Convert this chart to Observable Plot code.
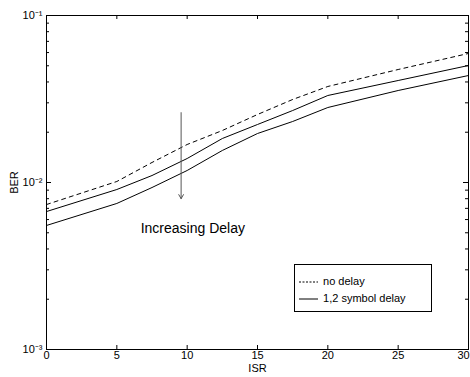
<!DOCTYPE html>
<html>
<head>
<meta charset="utf-8">
<script src="https://cdn.jsdelivr.net/npm/d3@7"></script>
<script src="https://cdn.jsdelivr.net/npm/@observablehq/plot@0.6"></script>
<style>
  html, body { margin: 0; padding: 0; background: #fff; }
  #wrap { position: relative; width: 470px; height: 377px; font-family: "Liberation Sans", Arial, sans-serif; }
  #legend { position: absolute; left: 294px; top: 264px; width: 136px; height: 46px; border: 1px solid #000; background: #fff; font-size: 11px; color: #000; }
  #legend .row { position: absolute; left: 0; height: 14px; line-height: 14px; white-space: nowrap; }
  #legend svg { vertical-align: middle; }
</style>
</head>
<body>
<div id="wrap"><div id="legend"></div></div>
<script>
// ---- data ----
const isr = [0, 5, 7.5, 10, 12.5, 15, 17.5, 20, 25, 30];
const berNoDelay = [0.00738, 0.01014, 0.01318, 0.01689, 0.02048, 0.02554, 0.03141, 0.03758, 0.04749, 0.05924];
const berDelay1  = [0.00670, 0.00908, 0.01101, 0.01392, 0.01834, 0.02225, 0.02698, 0.03319, 0.04081, 0.05018];
const berDelay2  = [0.00553, 0.00749, 0.00933, 0.01180, 0.01555, 0.01965, 0.02319, 0.02812, 0.03555, 0.04372];

const xTicks = [0, 5, 10, 15, 20, 25, 30];
const xTicksInner = [0, 5, 10, 15, 20, 25];
const xTickLast = [30];
const yMajor = [1e-3, 1e-2, 1e-1];
const yMajorLabels = ["10\u207B\u00B3", "10\u207B\u00B2", "10\u207B\u00B9"];
const yMinor = [2,3,4,5,6,7,8,9].flatMap(m => [m * 1e-3, m * 1e-2]);

const legendLabels = ["no delay", "1,2 symbol delay"];
const arrowStart = {isr: 9.57, ber: 0.0262};
const arrowEnd = {isr: 9.57, ber: 0.0080};
const annotation = [{isr: 10.4, ber: 0.0053, text: "Increasing Delay"}];

// ---- build rows ----
const dashedRows = isr.map((x, i) => ({isr: x, ber: berNoDelay[i], series: "no delay"}));
const solidRows = [
  ...isr.map((x, i) => ({isr: x, ber: berDelay1[i], series: "1 symbol delay"})),
  ...isr.map((x, i) => ({isr: x, ber: berDelay2[i], series: "2 symbol delay"}))
];

const W = 470, H = 377, mL = 46, mR = 2, mT = 15, mB = 28;
const plotW = W - mL - mR, plotH = H - mT - mB;

const chart = Plot.plot({
  width: W, height: H,
  marginLeft: mL, marginRight: mR, marginTop: mT, marginBottom: mB,
  style: {fontFamily: "Liberation Sans, Arial, sans-serif", fontSize: "11px", color: "black", background: "white", overflow: "visible"},
  x: {domain: [0, 30]},
  y: {type: "log", domain: [1e-3, 1e-1]},
  marks: [
    Plot.frame({stroke: "black", strokeWidth: 1}),
    // inward ticks on all four sides
    Plot.tickX(xTicks, {x: d => d, insetTop: plotH - 4, stroke: "black"}),
    Plot.tickX(xTicks, {x: d => d, insetBottom: plotH - 4, stroke: "black"}),
    Plot.tickY(yMajor, {y: d => d, insetRight: plotW - 5, stroke: "black"}),
    Plot.tickY(yMajor, {y: d => d, insetLeft: plotW - 5, stroke: "black"}),
    Plot.tickY(yMinor, {y: d => d, insetRight: plotW - 3, stroke: "black"}),
    Plot.tickY(yMinor, {y: d => d, insetLeft: plotW - 3, stroke: "black"}),
    Plot.axisX({ticks: xTicksInner, tickSize: 0, tickPadding: 2, fontSize: 11,
      label: "ISR", labelAnchor: "center", labelArrow: "none", labelOffset: 22}),
    Plot.axisX({ticks: xTickLast, tickSize: 0, tickPadding: 2, fontSize: 11, dx: -5, label: null}),
    Plot.axisY({ticks: yMajor, tickSize: 0, tickPadding: 4, fontSize: 11,
      tickFormat: d => yMajorLabels[yMajor.indexOf(d)],
      label: "BER", labelAnchor: "center", labelArrow: "none", labelOffset: 36}),
    Plot.line(dashedRows, {x: "isr", y: "ber", stroke: "black", strokeWidth: 1, strokeDasharray: "4,4"}),
    Plot.line(solidRows, {x: "isr", y: "ber", z: "series", stroke: "black", strokeWidth: 1}),
    Plot.arrow([{x1: arrowStart.isr, y1: arrowStart.ber, x2: arrowEnd.isr, y2: arrowEnd.ber}],
      {x1: "x1", y1: "y1", x2: "x2", y2: "y2", stroke: "#555", strokeWidth: 1, headLength: 7}),
    Plot.text(annotation, {x: "isr", y: "ber", text: "text", fontSize: 14, fill: "black"})
  ]
});
document.getElementById("wrap").prepend(chart);

// ---- legend ----
const legend = document.getElementById("legend");
legendLabels.forEach((lab, i) => {
  const row = document.createElement("div");
  row.className = "row";
  row.style.top = (i === 0 ? 9 : 26) + "px";
  row.style.left = "3px";
  const dash = i === 0 ? 'stroke-dasharray="2,1.5"' : "";
  row.innerHTML = `<svg width="22" height="6"><line x1="1" y1="3" x2="20" y2="3" stroke="black" stroke-width="1" ${dash}/></svg> ${lab}`;
  legend.appendChild(row);
});
</script>
</body>
</html>
